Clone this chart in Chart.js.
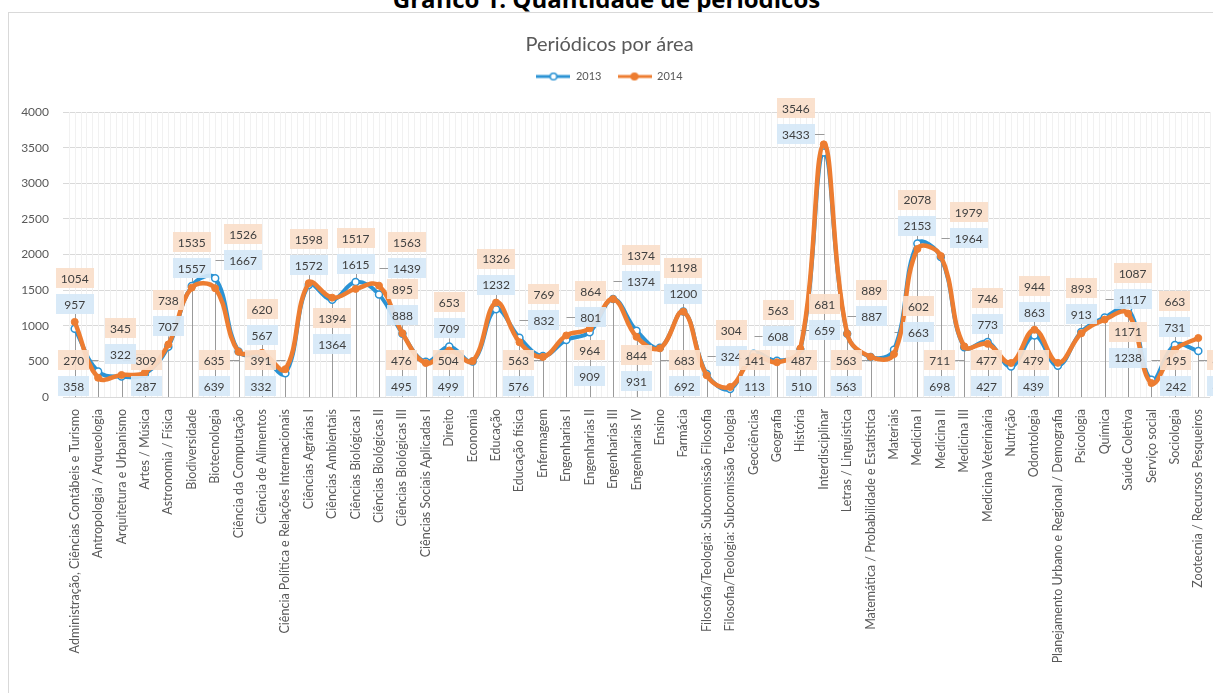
<!DOCTYPE html>
<html>
<head>
<meta charset="utf-8">
<script src="https://cdn.jsdelivr.net/npm/chart.js@4.4.1/dist/chart.umd.min.js"></script>
<style>
html, body { margin: 0; padding: 0; background: #fff; overflow: hidden; width: 1213px; height: 693px; }
#head { position: absolute; left: 0; top: -13px; width: 1213px; text-align: center; font: bold 24px "Open Sans", sans-serif; line-height: 24px; color: #000; }
#box { position: absolute; left: 8px; top: 12px; width: 1215px; height: 690px; border: 1px solid #d9d9d9; background: #fff; }
canvas { display: block; }
</style>
</head>
<body>
<div id="head">Gráfico 1: Quantidade de periódicos</div>
<div id="box"><canvas id="grafico" width="1215" height="690"></canvas></div>
<script>
const areas = [
    "Administração, Ciências Contábeis e Turismo", "Antropologia / Arqueologia", "Arquitetura e Urbanismo",
    "Artes / Música", "Astronomia / Física", "Biodiversidade", "Biotecnologia", "Ciência da Computação",
    "Ciência de Alimentos", "Ciência Política e Relações Internacionais", "Ciências Agrárias I",
    "Ciências Ambientais", "Ciências Biológicas I", "Ciências Biológicas II", "Ciências Biológicas III",
    "Ciências Sociais Aplicadas I", "Direito", "Economia", "Educação", "Educação física", "Enfermagem",
    "Engenharias I", "Engenharias II", "Engenharias III", "Engenharias IV", "Ensino", "Farmácia",
    "Filosofia/Teologia: Subcomissão Filosofia", "Filosofia/Teologia: Subcomissão Teologia", "Geociências",
    "Geografia", "História", "Interdisciplinar", "Letras / Linguística",
    "Matemática / Probabilidade e Estatística", "Materiais", "Medicina I", "Medicina II", "Medicina III",
    "Medicina Veterinária", "Nutrição", "Odontologia", "Planejamento Urbano e Regional / Demografia",
    "Psicologia", "Química", "Saúde Coletiva", "Serviço social", "Sociologia", "Zootecnia / Recursos Pesqueiros"
];
const serie2013 = [
    957, 358, 287, 322, 707, 1557, 1667, 639, 567, 332, 1572, 1364, 1615, 1439, 888,
    495, 709, 499, 1232, 832, 576, 801, 909, 1374, 931, 692, 1200, 324, 113, 608,
    510, 659, 3433, 887, 563, 663, 2153, 1964, 698, 773, 427, 863, 439, 913, 1117,
    1238, 242, 731, 646
];
const serie2014 = [
    1054, 270, 309, 345, 738, 1535, 1526, 635, 620, 391, 1598, 1394, 1517, 1563, 895,
    476, 653, 504, 1326, 769, 563, 864, 964, 1374, 844, 683, 1198, 304, 141, 563,
    487, 681, 3546, 889, 563, 602, 2078, 1979, 711, 746, 477, 944, 479, 893, 1087,
    1171, 195, 663, 828
];
const yTicks = [0, 500, 1000, 1500, 2000, 2500, 3000, 3500, 4000];

const AZUL = "#2b93d4";
const LARANJA = "#ed7d31";
const FONTE = "Lato, 'Open Sans', sans-serif";

// little legend images: line with marker
function marcador(cor, cheio) {
    const c = document.createElement("canvas");
    c.width = 34; c.height = 10;
    const g = c.getContext("2d");
    g.strokeStyle = cor; g.lineWidth = 3;
    g.beginPath(); g.moveTo(0, 5); g.lineTo(34, 5); g.stroke();
    g.beginPath(); g.arc(17, 5, 3.3, 0, Math.PI * 2);
    g.fillStyle = cheio ? cor : "#fff"; g.fill();
    g.lineWidth = 1.5; g.stroke();
    return c;
}

function sobrepoe(a, b) {
    const w = Math.min(a.r, b.r) - Math.max(a.l, b.l);
    const h = Math.min(a.b, b.b) - Math.max(a.t, b.t);
    return (w > 0 && h > 0) ? w * h : 0;
}

function posicionar(chart) {
    const xs = chart.scales.x, ys = chart.scales.y, area = chart.chartArea, ctx = chart.ctx;
    ctx.save();
    ctx.font = "12px " + FONTE;
    const caixas = [], res = [];
    const h = 20, passo = 26;
    for (let i = 0; i < areas.length; i++) {
        const px = xs.getPixelForValue(i);
        const yO = ys.getPixelForValue(serie2014[i]), yB = ys.getPixelForValue(serie2013[i]);
        const w = Math.max(ctx.measureText(String(serie2014[i])).width, ctx.measureText(String(serie2013[i])).width) + 10;
        const topo = Math.min(yO, yB), base = Math.max(yO, yB);
        const v = (serie2014[i] + serie2013[i]) / 2;
        const viz = [];
        if (i > 0) viz.push((serie2014[i - 1] + serie2013[i - 1]) / 2);
        if (i < areas.length - 1) viz.push((serie2014[i + 1] + serie2013[i + 1]) / 2);
        const ordem = v >= Math.min(...viz) * 1.1 ? [true, false] : [false, true];
        const cands = [];
        ordem.forEach(cima => {
            let c1, c2, preso = false;
            if (cima) {
                c2 = topo - 18; c1 = c2 - passo;
                if (c1 - h / 2 < area.top - 14) { const d = area.top - 14 - (c1 - h / 2); c1 += d; c2 += d; preso = true; }
            } else {
                c1 = base + 18; c2 = c1 + passo;
                if (c2 + h / 2 > area.bottom - 1) { const d = c2 + h / 2 - (area.bottom - 1); c1 -= d; c2 -= d; preso = true; }
            }
            const desl = preso ? [-(w / 2 + 9), w / 2 + 9] : [0, -(w / 2 + 9), w / 2 + 9];
            desl.forEach(dx => {
                const cx = px + dx;
                cands.push({ cima, cx, c1, c2, w, h, px, topo, rect: { l: cx - w / 2, r: cx + w / 2, t: c1 - h / 2, b: c2 + h / 2 } });
            });
        });
        let melhor = null, menor = Infinity;
        for (const c of cands) {
            const s = caixas.reduce((t, b) => t + sobrepoe(c.rect, b), 0);
            if (s < menor - 0.5) { menor = s; melhor = c; }
            if (s === 0) break;
        }
        caixas.push(melhor.rect);
        res.push(melhor);
    }
    ctx.restore();
    return res;
}

const rotulos = {
    id: "rotulos",
    beforeDatasetsDraw(chart) {
        const ctx = chart.ctx, area = chart.chartArea, xs = chart.scales.x;
        chart.$rot = posicionar(chart);
        ctx.save();
        // faint vertical texture
        const larg = (xs.getPixelForValue(1) - xs.getPixelForValue(0)) / 4;
        ctx.strokeStyle = "#f1f1f1"; ctx.lineWidth = 1;
        for (let x = area.left + larg; x < area.right; x += larg) {
            ctx.beginPath(); ctx.moveTo(Math.round(x) + 0.5, area.top); ctx.lineTo(Math.round(x) + 0.5, area.bottom); ctx.stroke();
        }
        // drop / leader lines
        ctx.strokeStyle = "#9a9a9a";
        chart.$rot.forEach(r => {
            const x = Math.round(r.px) + 0.5;
            let y0 = r.topo;
            if (r.cima && r.cx === r.px) y0 = r.c2 + r.h / 2;
            ctx.beginPath(); ctx.moveTo(x, y0); ctx.lineTo(x, area.bottom); ctx.stroke();
            if (r.cx !== r.px) {
                const lado = r.cx < r.px ? r.cx + r.w / 2 : r.cx - r.w / 2;
                const yl = r.cima ? r.c2 : r.c1;
                ctx.beginPath(); ctx.moveTo(lado, Math.round(yl) + 0.5); ctx.lineTo(x, Math.round(yl) + 0.5); ctx.stroke();
            }
        });
        ctx.restore();
    },
    afterDatasetsDraw(chart) {
        const ctx = chart.ctx;
        ctx.save();
        ctx.font = "12px " + FONTE;
        ctx.textAlign = "center";
        ctx.textBaseline = "middle";
        chart.$rot.forEach((r, i) => {
            [[r.c1, serie2014[i], "rgba(250,222,202,0.92)"], [r.c2, serie2013[i], "rgba(214,232,247,0.92)"]].forEach(([cy, val, fundo]) => {
                ctx.fillStyle = fundo;
                ctx.fillRect(Math.round(r.cx - r.w / 2), Math.round(cy - r.h / 2), Math.round(r.w), r.h);
                ctx.fillStyle = "#404040";
                ctx.fillText(String(val), r.cx, cy + 1);
            });
        });
        ctx.restore();
    }
};

new Chart(document.getElementById("grafico"), {
    type: "line",
    data: {
        labels: areas,
        datasets: [
            {
                label: "2013",
                data: serie2013,
                borderColor: AZUL,
                backgroundColor: AZUL,
                borderWidth: 4,
                tension: 0.4,
                pointRadius: 3.5,
                pointBackgroundColor: "#fff",
                pointBorderColor: AZUL,
                pointBorderWidth: 1.5,
                order: 1
            },
            {
                label: "2014",
                data: serie2014,
                borderColor: LARANJA,
                backgroundColor: LARANJA,
                borderWidth: 4.5,
                tension: 0.4,
                pointRadius: 3.5,
                pointBackgroundColor: LARANJA,
                pointBorderColor: LARANJA,
                pointBorderWidth: 1,
                order: 0
            }
        ]
    },
    options: {
        responsive: false,
        animation: false,
        layout: { padding: { top: 0, right: 14, bottom: 0, left: 0 } },
        plugins: {
            title: {
                display: true,
                text: "Periódicos por área",
                color: "#595959",
                font: { family: FONTE, size: 20, weight: "normal", lineHeight: 1 },
                padding: { top: 22, bottom: 0 }
            },
            // empty spacer below the legend
            subtitle: {
                display: true,
                text: "",
                weight: 500,
                font: { size: 1, lineHeight: 1 },
                padding: { top: 0, bottom: 19 }
            },
            legend: {
                display: true,
                labels: {
                    color: "#595959",
                    font: { family: FONTE, size: 11 },
                    usePointStyle: true,
                    pointStyleWidth: 34,
                    padding: 16,
                    generateLabels: () => [
                        { text: "2013", pointStyle: marcador(AZUL, false), datasetIndex: 0, fontColor: "#595959", lineWidth: 0, strokeStyle: "transparent", fillStyle: "transparent" },
                        { text: "2014", pointStyle: marcador(LARANJA, true), datasetIndex: 1, fontColor: "#595959", lineWidth: 0, strokeStyle: "transparent", fillStyle: "transparent" }
                    ]
                }
            },
            tooltip: { enabled: false }
        },
        scales: {
            x: {
                offset: true,
                grid: { display: false },
                border: { display: false },
                ticks: {
                    autoSkip: false,
                    maxRotation: 90,
                    minRotation: 90,
                    padding: 4,
                    color: "#595959",
                    font: { family: FONTE, size: 12.5 }
                },
                afterFit(s) { s.height = 306; }
            },
            y: {
                min: 0,
                max: 4000,
                afterBuildTicks(s) { s.ticks = yTicks.map(v => ({ value: v })); },
                grid: { color: "#d9d9d9", drawTicks: false },
                border: { display: false },
                ticks: {
                    padding: 14,
                    color: "#595959",
                    font: { family: FONTE, size: 12 },
                    callback: v => String(v)
                },
                afterFit(s) { s.width = 54; }
            }
        }
    },
    plugins: [rotulos]
});
</script>
</body>
</html>
